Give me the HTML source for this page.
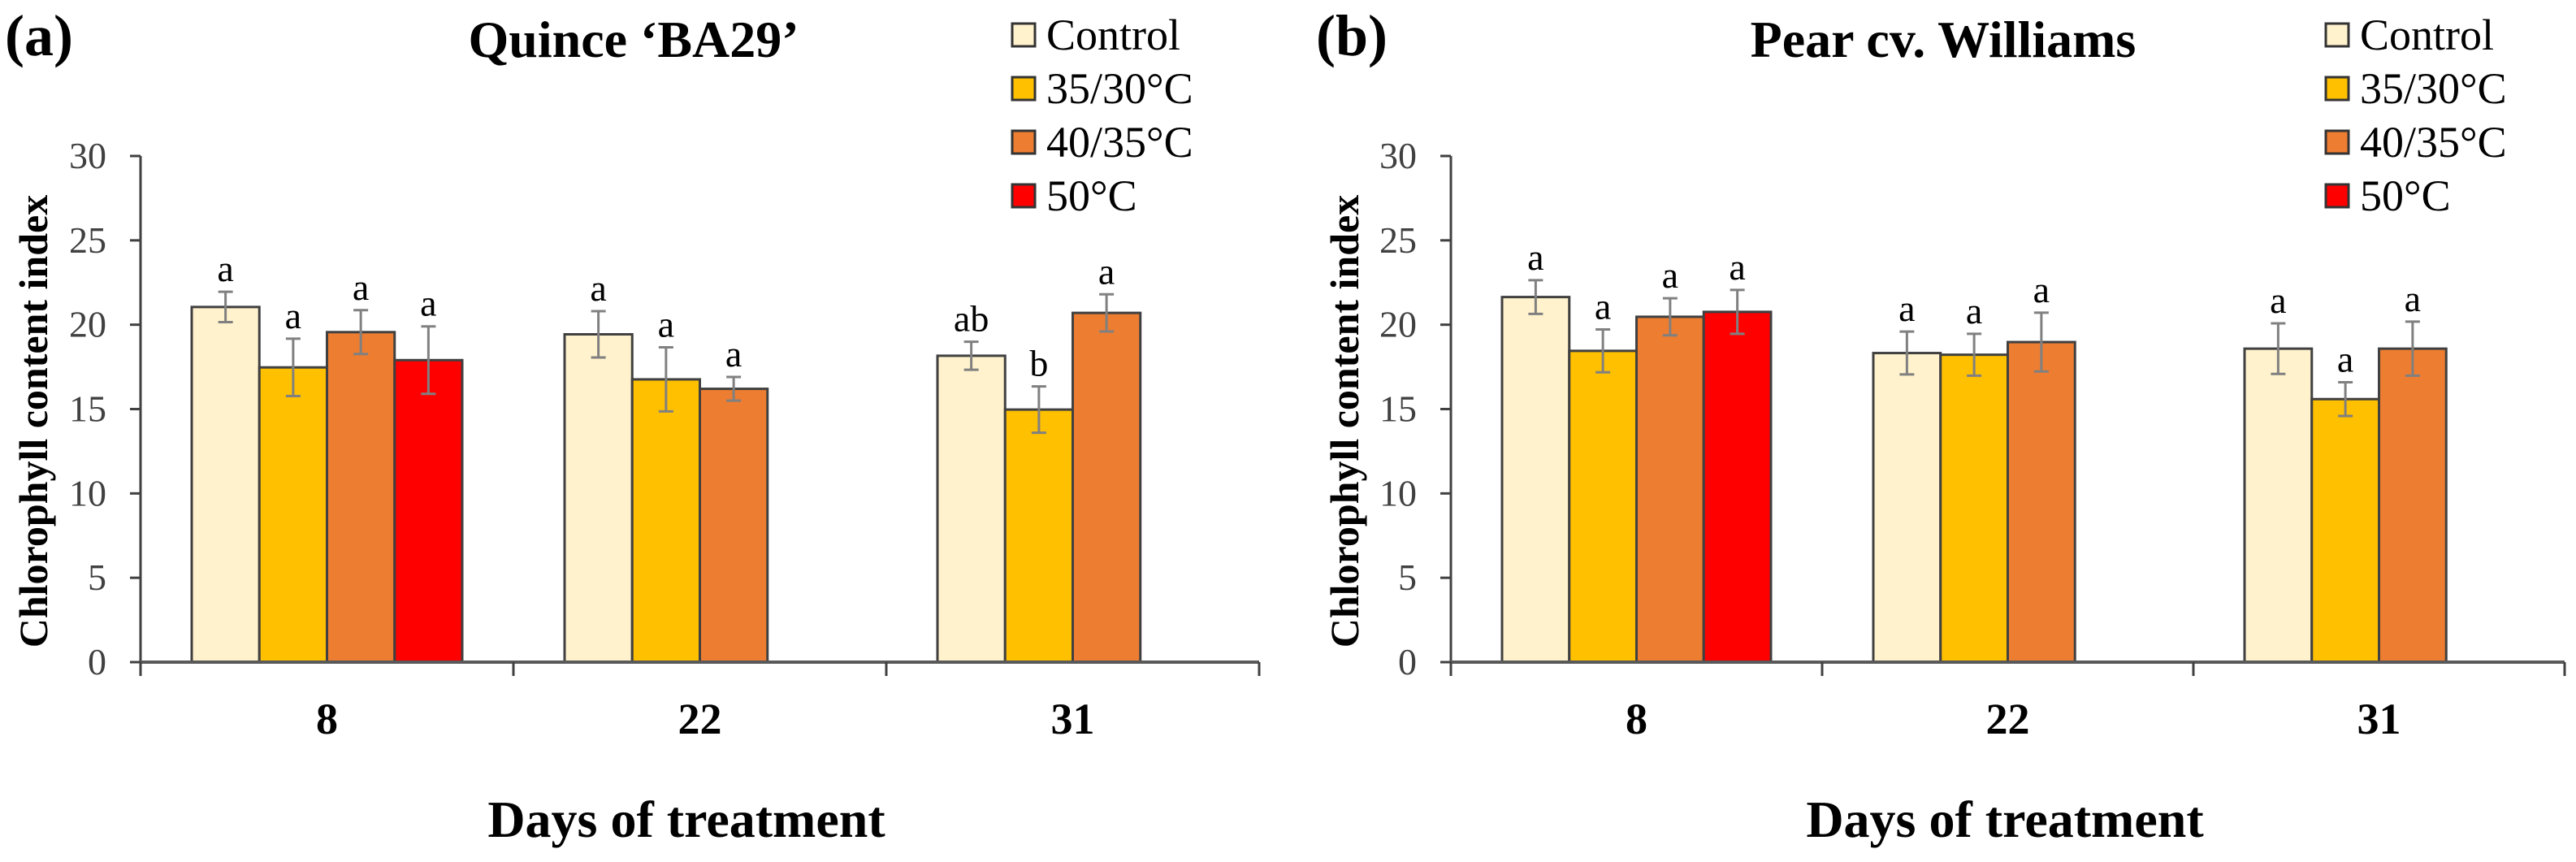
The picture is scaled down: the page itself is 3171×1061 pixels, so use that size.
<!DOCTYPE html>
<html><head><meta charset="utf-8"><style>
html,body{margin:0;padding:0;background:#fff;}
svg{display:block;}
svg text{font-family:"Liberation Serif","DejaVu Serif",serif;}
</style></head><body>
<svg id="fig" width="3171" height="1061" viewBox="0 0 3171 1061" xmlns="http://www.w3.org/2000/svg" font-family="Liberation Serif, serif"></svg>
<script>
const categories = ["8","22","31"];
const seriesNames = ["Control","35/30°C","40/35°C","50°C"];
const seriesColors = ["#FFF2CC","#FFC000","#ED7D31","#FF0000"];
const yTicks = [0,5,10,15,20,25,30];
// Panel a: Quince BA29 (null = no bar)
const aControl = [21.05,19.43,18.16];
const a3530 = [17.47,16.76,14.97];
const a4035 = [19.56,16.2,20.7];
const a50 = [17.9,null,null];
const aErrControl = [0.9,1.37,0.83];
const aErr3530 = [1.7,1.9,1.37];
const aErr4035 = [1.3,0.7,1.1];
const aErr50 = [2.0,null,null];
const aLetters = [["a","a","ab"],["a","a","b"],["a","a","a"],["a",null,null]];
// Panel b: Pear cv. Williams
const bControl = [21.64,18.32,18.58];
const b3530 = [18.45,18.22,15.59];
const b4035 = [20.47,18.97,18.58];
const b50 = [20.76,null,null];
const bErrControl = [1.0,1.27,1.5];
const bErr3530 = [1.27,1.24,1.0];
const bErr4035 = [1.1,1.74,1.6];
const bErr50 = [1.3,null,null];
const bLetters = [["a","a","a"],["a","a","a"],["a","a","a"],["a",null,null]];

const NS="http://www.w3.org/2000/svg";
const svg=document.getElementById('fig');
function mk(tag,attrs,parent,text){const e=document.createElementNS(NS,tag);for(const k in attrs)e.setAttribute(k,attrs[k]);if(tag==='text'){e.setAttribute('font-family','Liberation Serif, serif');e.style.fontFamily='"Liberation Serif", serif';}if(text!==undefined)e.textContent=text;(parent||svg).appendChild(e);return e;}

function panel(cfg){
  const g=mk('g',{});
  
  
  const x0=cfg.axisX, catW=cfg.catW, y0=815, yTop=192;
  const yS=v=>y0-(v-0)/30*(y0-yTop);
  const xEnd=x0+catW*categories.length;
  const ya=mk('line',{x1:x0,y1:yTop,x2:x0,y2:y0,stroke:'#404040','stroke-width':3},g);
  
  
  yTicks.forEach(t=>{
    mk('line',{x1:x0-13,y1:yS(t),x2:x0,y2:yS(t),stroke:'#404040','stroke-width':3},g);
    const tl=mk('text',{x:x0-42,y:yS(t)+15,'text-anchor':'end','font-size':46,fill:'#404040'},g,String(t));
    
    
  });
  const yt=mk('text',{transform:`translate(${cfg.yTitleX},${(yTop+y0)/2+15}) rotate(-90)`,'text-anchor':'middle','font-size':50,'font-weight':'bold',fill:'#000'},g,'Chlorophyll content index');
  
  
  const series=cfg.values, errs=cfg.errs;
  const slot=(catW-2*63)/4;
  categories.forEach((c,ci)=>{
    series.forEach((vals,si)=>{
      const v=vals[ci]; if(v===null)return;
      const bx=x0+ci*catW+63+si*slot;
      const r=mk('rect',{x:bx,y:yS(v),width:slot,height:y0-yS(v),fill:seriesColors[si],stroke:'#404040','stroke-width':3},g);
      
      
      const e=errs[si][ci], cx=bx+slot/2;
      mk('line',{x1:cx,y1:yS(v+e),x2:cx,y2:yS(v-e),stroke:'#808080','stroke-width':3},g);
      mk('line',{x1:cx-9,y1:yS(v+e),x2:cx+9,y2:yS(v+e),stroke:'#808080','stroke-width':3},g);
      mk('line',{x1:cx-9,y1:yS(v-e),x2:cx+9,y2:yS(v-e),stroke:'#808080','stroke-width':3},g);
      const L=cfg.letters[si][ci];
      if(L){const lt=mk('text',{x:cx,y:yS(v+e)-13,'text-anchor':'middle','font-size':46,fill:'#000'},g,L);
        
        }
    });
    const xl=mk('text',{x:x0+ci*catW+catW/2,y:903,'text-anchor':'middle','font-size':54,'font-weight':'bold'},g,c);
    
    
  });
  const xa=mk('line',{x1:x0,y1:y0,x2:xEnd,y2:y0,stroke:'#595959','stroke-width':4},g);
  
  
  for(let i=0;i<=categories.length;i++){
    mk('line',{x1:x0+i*catW,y1:y0,x2:x0+i*catW,y2:y0+17,stroke:'#404040','stroke-width':3},g);
  }
  const xt=mk('text',{x:cfg.xTitleX,y:1030,'text-anchor':'middle','font-size':64,'font-weight':'bold'},g,'Days of treatment');
  
  
  const pl=mk('text',{x:cfg.labelX,y:68,'font-size':72,'font-weight':'bold'},g,cfg.label);
  
  
  const ti=mk('text',{x:cfg.titleX,y:70,'text-anchor':'middle','font-size':64,'font-weight':'bold'},g,cfg.title);
  
  
  seriesNames.forEach((n,i)=>{
    const cy=43+i*66;
    const lg=mk('g',{},g);
    
    
    mk('rect',{x:cfg.legendX+2,y:cy-14,width:28,height:28,fill:seriesColors[i],stroke:'#333','stroke-width':3},lg);
    mk('text',{x:cfg.legendX+44,y:cy+18,'font-size':54,fill:'#000'},lg,n);
  });
}
panel({id:'panel-a',label:'(a)',title:'Quince ‘BA29’',axisX:173,catW:459,yTitleX:58,xTitleX:845,labelX:6,titleX:780,legendX:1244,
  values:[aControl,a3530,a4035,a50],errs:[aErrControl,aErr3530,aErr4035,aErr50],letters:aLetters});
panel({id:'panel-b',label:'(b)',title:'Pear cv. Williams',axisX:1786,catW:457,yTitleX:1672,xTitleX:2468,labelX:1620,titleX:2392,legendX:2861,
  values:[bControl,b3530,b4035,b50],errs:[bErrControl,bErr3530,bErr4035,bErr50],letters:bLetters});
</script>
</body></html>
